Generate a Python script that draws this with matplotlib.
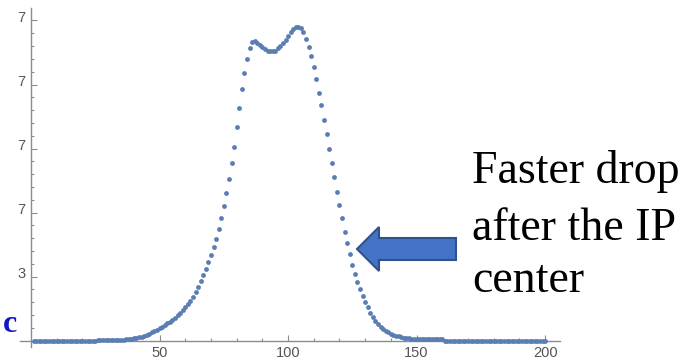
import matplotlib.pyplot as plt
import matplotlib.transforms as mtransforms
from matplotlib.patches import Polygon
import numpy as np

# bin index and signal (one dot per bin)
positions = np.arange(1, 201)
signal = [
    0.0, 0.0, 0.0, 0.0, 0.0, 0.0, 0.0, 0.0, 0.0, 0.0,
    0.0, 0.0, 0.0, 0.0, 0.0, 0.0, 0.0, 0.0, 0.0, 0.0,
    0.0, 0.0, 0.0, 0.0, 0.0, 0.016, 0.016, 0.016, 0.016, 0.016,
    0.016, 0.016, 0.016, 0.016, 0.016, 0.016, 0.020, 0.023, 0.028, 0.034,
    0.042, 0.052, 0.063, 0.077, 0.092, 0.109, 0.128, 0.148, 0.172, 0.195,
    0.219, 0.242, 0.269, 0.297, 0.328, 0.359, 0.398, 0.438, 0.477, 0.523,
    0.570, 0.625, 0.688, 0.758, 0.836, 0.930, 1.023, 1.125, 1.227, 1.336,
    1.461, 1.594, 1.742, 1.914, 2.102, 2.309, 2.519, 2.778, 3.028, 3.331,
    3.628, 3.925, 4.184, 4.394, 4.566, 4.664, 4.672, 4.648, 4.617, 4.586,
    4.555, 4.531, 4.516, 4.516, 4.531, 4.570, 4.602, 4.648, 4.695, 4.750,
    4.813, 4.867, 4.898, 4.906, 4.883, 4.820, 4.711, 4.586, 4.438, 4.273,
    4.086, 3.867, 3.680, 3.445, 3.227, 3.000, 2.781, 2.555, 2.328, 2.117,
    1.914, 1.695, 1.523, 1.352, 1.180, 1.039, 0.914, 0.805, 0.695, 0.609,
    0.523, 0.438, 0.367, 0.313, 0.266, 0.219, 0.188, 0.156, 0.133, 0.109,
    0.094, 0.078, 0.066, 0.055, 0.047, 0.042, 0.036, 0.031, 0.027, 0.023,
    0.019, 0.019, 0.019, 0.019, 0.019, 0.019, 0.019, 0.019, 0.019, 0.019,
    0.0, 0.0, 0.0, 0.0, 0.0, 0.0, 0.0, 0.0, 0.0, 0.0,
    0.0, 0.0, 0.0, 0.0, 0.0, 0.0, 0.0, 0.0, 0.0, 0.0,
    0.0, 0.0, 0.0, 0.0, 0.0, 0.0, 0.0, 0.0, 0.0, 0.0,
    0.0, 0.0, 0.0, 0.0, 0.0, 0.0, 0.0, 0.0, 0.0, 0.0,
]
x_major = [50, 100, 150, 200]
y_major = [1, 2, 3, 4, 5]
y_labels = ['3', '7', '7', '7', '7']  # cut off at the image edge in the original

W, H = 699, 364
fig = plt.figure(figsize=(W / 100, H / 100), dpi=100)
ax = fig.add_axes([20 / W, 1 - 347 / H, 540 / W, 339 / H])

ax.scatter(positions, signal, s=12, color='#5A7DB3', linewidths=0, zorder=3)

ax.set_xlim(-4.3, 205.8)
ax.set_ylim(-0.1, 5.195)
for side in ['top', 'right']:
    ax.spines[side].set_visible(False)
ax.spines['left'].set_position(('data', 0))
ax.spines['bottom'].set_position(('data', 0))
for side in ['left', 'bottom']:
    ax.spines[side].set_color('#8c8c8c')
    ax.spines[side].set_linewidth(1.0)

ax.set_xticks(x_major)
ax.set_xticks([t for t in range(10, 201, 10) if t not in x_major], minor=True)
ax.set_yticks(y_major)
ax.set_yticks([t / 5 for t in range(1, 26) if t % 5], minor=True)
ax.set_yticklabels(y_labels)

ax.tick_params(which='both', direction='in', color='#8c8c8c', width=0.8,
               labelcolor='#555555', labelsize=10.5)
ax.tick_params(axis='x', which='major', length=4.5, pad=4)
ax.tick_params(axis='x', which='minor', length=2.5)
ax.tick_params(axis='y', which='major', length=4.0, pad=4)
ax.tick_params(axis='y', which='minor', length=2.5)
for lbl in ax.get_xticklabels() + ax.get_yticklabels():
    lbl.set_family('Liberation Sans')
shift = mtransforms.ScaledTranslation(0, 3 / 72, fig.dpi_scale_trans)
for lbl in ax.get_yticklabels():
    lbl.set_transform(lbl.get_transform() + shift)

# blue letter at the left edge
fig.text(3 / W, 1 - 332 / H, 'c', fontsize=23, color='#1414c8',
         family='Liberation Serif', weight='bold', va='baseline')

# annotation text
serif = 'Liberation Serif'
fig.text(472 / W, 1 - 183 / H, 'Faster drop', fontsize=33, family=serif, va='baseline')
fig.text(472 / W, 1 - 240 / H, 'after the IP', fontsize=33, family=serif, va='baseline')
fig.text(472 / W, 1 - 292 / H, 'center', fontsize=33, family=serif, va='baseline')

# block arrow pointing left
tip_x, tip_y = 357, 249
head_x, tail_x = 379, 456
head_h, shaft_h = 22, 11
pts = [(tip_x, tip_y), (head_x, tip_y - head_h), (head_x, tip_y - shaft_h),
       (tail_x, tip_y - shaft_h), (tail_x, tip_y + shaft_h),
       (head_x, tip_y + shaft_h), (head_x, tip_y + head_h)]
pts = [(px / W, 1 - py / H) for px, py in pts]
fig.patches.append(Polygon(pts, closed=True, transform=fig.transFigure,
                           facecolor='#4472C4', edgecolor='#2F528F', linewidth=1.5))

fig.savefig('out.png', dpi=100)
